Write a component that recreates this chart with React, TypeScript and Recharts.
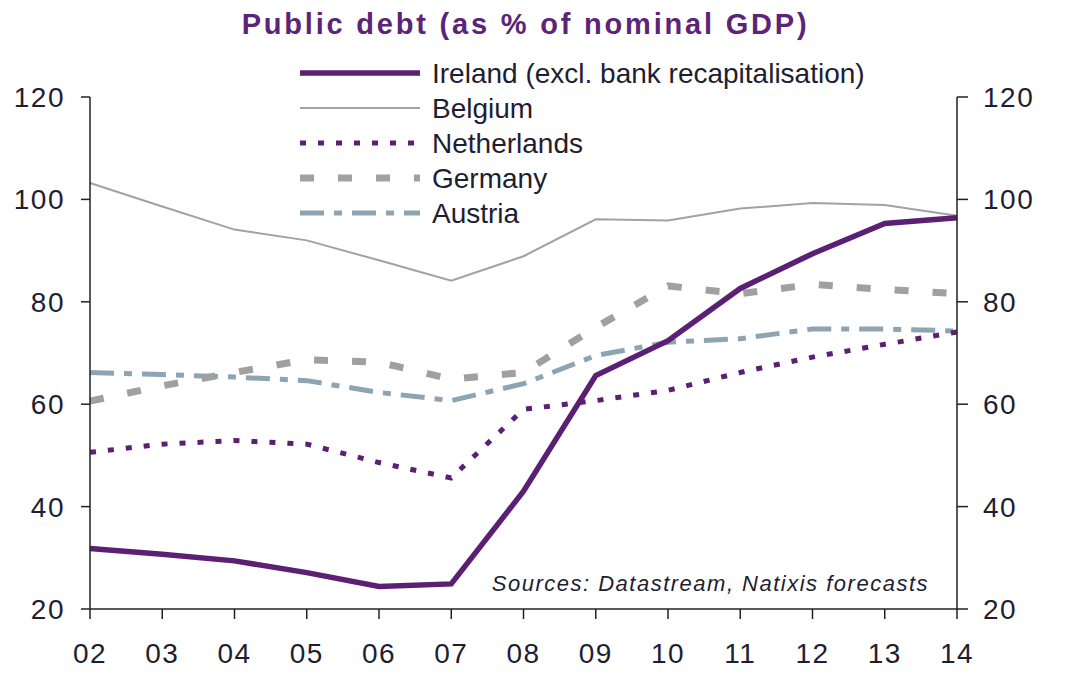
import { LineChart, Line, XAxis, YAxis } from 'recharts';

const years = ['02', '03', '04', '05', '06', '07', '08', '09', '10', '11', '12', '13', '14'];
const ireland = [31.8, 30.7, 29.4, 27.1, 24.4, 24.9, 43.0, 65.6, 72.4, 82.6, 89.4, 95.3, 96.4];
const belgium = [103.2, 98.6, 94.1, 92.0, 88.1, 84.1, 88.9, 96.1, 95.9, 98.2, 99.3, 98.9, 96.8];
const netherlands = [50.6, 52.2, 52.9, 52.2, 48.6, 45.6, 59.0, 60.7, 62.7, 66.2, 69.2, 71.7, 74.1];
const germany = [60.6, 63.6, 66.2, 68.7, 68.2, 64.9, 66.2, 75.0, 83.1, 81.6, 83.4, 82.4, 81.6];
const austria = [66.2, 65.8, 65.3, 64.6, 62.3, 60.7, 64.0, 69.5, 72.1, 72.8, 74.7, 74.7, 74.3];
const yTicks = [20, 40, 60, 80, 100, 120];

const data = years.map((y, i) => ({
  year: y,
  ireland: ireland[i],
  belgium: belgium[i],
  netherlands: netherlands[i],
  germany: germany[i],
  austria: austria[i],
}));

const FONT = '"Liberation Sans", Arial, sans-serif';
const TEXT = '#1e1e32';

// legend order; drawing order is separate so Ireland sits on top
const series = [
  { key: 'ireland', name: 'Ireland (excl. bank recapitalisation)', color: '#5b1f74', width: 5.5, dash: undefined },
  { key: 'belgium', name: 'Belgium', color: '#a2a2a2', width: 2, dash: undefined },
  { key: 'netherlands', name: 'Netherlands', color: '#5b1f74', width: 5, dash: '6 12' },
  { key: 'germany', name: 'Germany', color: '#a0a0a0', width: 7, dash: '14 24' },
  { key: 'austria', name: 'Austria', color: '#8ea4b2', width: 5, dash: '24 10 8 10' },
];
const drawOrder = ['belgium', 'austria', 'germany', 'netherlands', 'ireland'];

const LegendBox = () => (
  <svg width={640} height={180} style={{ position: 'absolute', left: 300, top: 58, zIndex: 2 }}>
    {series.map((s, i) => (
      <g key={s.key}>
        <line x1={0} x2={120} y1={15 + i * 35} y2={15 + i * 35} stroke={s.color} strokeWidth={s.width} strokeDasharray={s.dash} />
        <text x={132} y={15 + i * 35} dy="0.35em" fontSize={28} fontFamily={FONT} fill={TEXT}>{s.name}</text>
      </g>
    ))}
  </svg>
);

const tickStyle = { fill: TEXT, fontSize: 28, fontFamily: FONT, letterSpacing: 1.5 };

const App = () => (
  <div style={{ position: 'absolute', left: 0, top: 0, width: 1073, height: 686, background: '#fff' }}>
    <div style={{ position: 'absolute', left: 0, top: 10, width: 1051, textAlign: 'center', lineHeight: 1, fontFamily: FONT, fontWeight: 'bold', fontSize: 29, letterSpacing: 2.8, color: '#5c2478', zIndex: 2 }}>
      Public debt (as % of nominal GDP)
    </div>
    <div style={{ position: 'absolute', right: 144, top: 573, lineHeight: 1, fontFamily: FONT, fontStyle: 'italic', fontSize: 22, letterSpacing: 1.5, color: TEXT, zIndex: 2 }}>
      Sources: Datastream, Natixis forecasts
    </div>
    <LegendBox />
    <LineChart width={1073} height={686} data={data} margin={{ top: 97, right: 0, bottom: 0, left: 0 }}>
      <XAxis dataKey="year" height={77} tickSize={10} tickMargin={24} stroke="#222" strokeWidth={1.5}
        tick={tickStyle} interval={0} />
      <YAxis yAxisId="left" orientation="left" width={90} domain={[20, 120]} ticks={yTicks} tickSize={9} tickMargin={16}
        stroke="#222" strokeWidth={1.5} tick={tickStyle} />
      <YAxis yAxisId="right" orientation="right" width={116} domain={[20, 120]} ticks={yTicks} tickSize={11} tickMargin={15}
        stroke="#222" strokeWidth={1.5} tick={tickStyle} />
      {drawOrder.map((k) => {
        const s = series.find((x) => x.key === k)!;
        return (
          <Line key={k} yAxisId={k === 'belgium' ? 'right' : 'left'} type="linear" dataKey={k} name={s.name} stroke={s.color}
            strokeWidth={s.width} strokeDasharray={s.dash} dot={false} activeDot={false} isAnimationActive={false} />
        );
      })}
    </LineChart>
  </div>
);

export default App;
